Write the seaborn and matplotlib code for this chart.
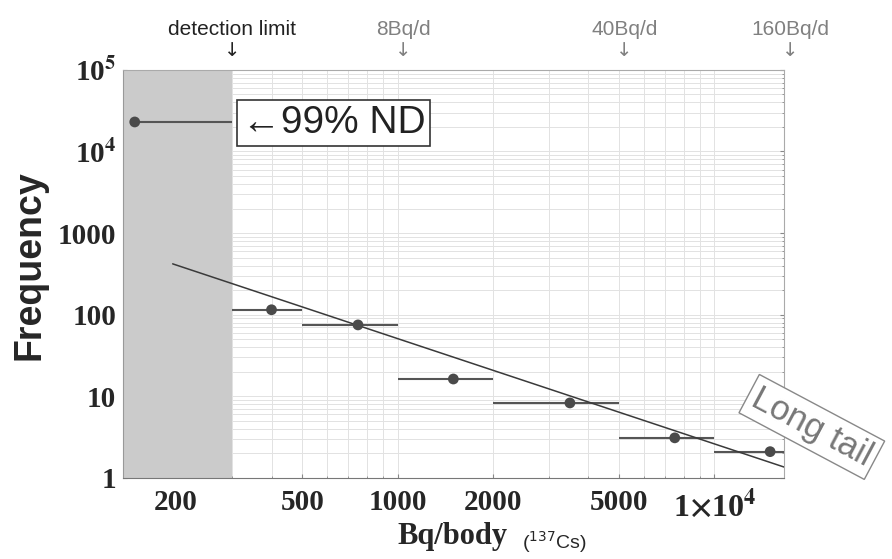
import matplotlib as mpl
import matplotlib.pyplot as plt
import matplotlib.transforms as mtrans
import numpy as np
import pandas as pd
import seaborn as sns

# binned counts
bin_center = [148, 400, 750, 1500, 3500, 7500, 15000]
bin_low = [145, 300, 500, 1000, 2000, 5000, 10000]
bin_high = [300, 500, 1000, 2000, 5000, 10000, 20000]
frequency = [23000, 115, 75, 16.3, 8.3, 3.1, 2.1]

# power-law fit line end points
fit_x = [195, 16600]
fit_y = [420, 1.36]

detection_limit = 300
marker_x = [300, 1040, 5200, 17400]
marker_text = ["detection limit", "8Bq/d", "40Bq/d", "160Bq/d"]
marker_color = ["#222222", "#808080", "#808080", "#808080"]

xticks = [200, 500, 1000, 2000, 5000, 10000]
xtick_labels = ["200", "500", "1000", "2000", "5000", r"1$\times$10$^{4}$"]
yticks = [1, 10, 100, 1000, 1e4, 1e5]
ytick_labels = ["1", "10", "100", "1000", r"10$^{4}$", r"10$^{5}$"]


sns.set_style("white")
mpl.rcParams["mathtext.fontset"] = "stix"
mpl.rcParams["mathtext.default"] = "bf"
plt.rcParams["font.family"] = ["Liberation Sans", "DejaVu Sans"]

fig = plt.figure(figsize=(8.92, 5.59), dpi=100)
ax = fig.add_axes([0.138, 0.145, 0.741, 0.730])

ax.set_xscale("log")
ax.set_yscale("log")
ax.set_xlim(136, 16600)
ax.set_ylim(1, 1e5)

# grid
ax.grid(which="both", color="#e2e2e2", lw=0.7)
ax.set_axisbelow(True)

# non-detect region
ax.axvspan(1, detection_limit, color="#cbcbcb", zorder=1, lw=0)

data = pd.DataFrame({"x": bin_center, "y": frequency, "lo": bin_low, "hi": bin_high})
fit = pd.DataFrame({"x": fit_x, "y": fit_y})

ax.hlines(data["y"], data["lo"], data["hi"], color="#555555", lw=1.5, zorder=3)
sns.lineplot(data=fit, x="x", y="y", ax=ax, color="#3a3a3a", lw=1.1, zorder=4)
sns.scatterplot(data=data, x="x", y="y", ax=ax, color="#4a4a4a", s=60,
                edgecolor="none", zorder=5)

# ticks
ax.set_xticks(xticks)
ax.set_xticklabels(xtick_labels, fontfamily="Liberation Serif",
                   fontweight="bold", fontsize=21)
ax.xaxis.get_ticklabels()[-1].set_fontsize(23)
ax.set_yticks(yticks)
ax.set_yticklabels(ytick_labels, fontfamily="Liberation Serif",
                   fontweight="bold", fontsize=21)
ax.xaxis.set_minor_formatter(mpl.ticker.NullFormatter())
ax.yaxis.set_minor_formatter(mpl.ticker.NullFormatter())
ax.tick_params(which="both", direction="in", color="#888888", length=3,
               right=True, left=True, bottom=True)
ax.tick_params(axis="x", pad=8)
ax.tick_params(axis="y", pad=5)
ax.tick_params(which="minor", length=1.5)
for s in ax.spines.values():
    s.set_color("#aaaaaa")
    s.set_linewidth(0.8)
ax.spines["bottom"].set_color("#777777")
ax.spines["left"].set_color("#999999")

ax.set_xlabel("")
ax.set_ylabel("Frequency", fontsize=27, fontweight="bold")
ax.yaxis.set_label_coords(-0.115, 0.522)
fig.text(0.507, 0.026, "Bq/body", fontfamily="Liberation Serif",
         fontweight="bold", fontsize=22, ha="center")
fig.text(0.585, 0.019, r"($^{\mathrm{137}}$Cs)", fontsize=14, ha="left",
         math_fontfamily="dejavusans")

# markers above the plot
trans = mtrans.blended_transform_factory(ax.transData, ax.transAxes)
for xv, label, col in zip(marker_x, marker_text, marker_color):
    ax.text(xv, 1.10, label, transform=trans, ha="center", va="center",
            fontsize=15, color=col, clip_on=False)
    ax.text(xv, 1.048, "↓", transform=trans, ha="center", va="center",
            fontsize=14, color=col, family="DejaVu Sans", clip_on=False)

# annotations
ax.text(322, 22400, "←99% ND", fontsize=28, ha="left", va="center",
        color="#222222", family=["Liberation Sans", "DejaVu Sans"],
        bbox=dict(boxstyle="square,pad=0.12", fc="white", ec="#333333", lw=1.2),
        zorder=6)
ax.text(1.042, 0.125, "Long tail", transform=ax.transAxes, fontsize=25,
        rotation=-28, ha="center", va="center", color="#777777",
        bbox=dict(boxstyle="square,pad=0.15", fc="white", ec="#888888", lw=1),
        clip_on=False, zorder=6)

fig.savefig("out.png", dpi=100)
